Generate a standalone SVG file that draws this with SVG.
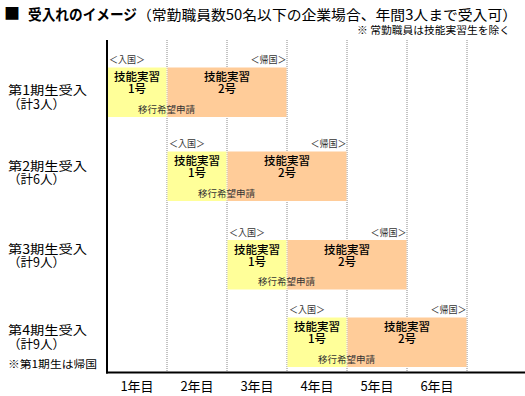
<svg xmlns="http://www.w3.org/2000/svg" width="525" height="396" viewBox="0 0 525 396">
<style>
text{font-family:"Noto Sans CJK JP","Noto Sans",sans-serif;fill:#000}
.ttl{font-size:15px;font-weight:bold}
.sub{font-size:14px}
.note{font-size:10px}
.lab{font-size:12.5px}
.yr{font-size:13px;text-anchor:middle}
.bx{font-size:11.5px;font-weight:500;text-anchor:middle}
.sm{font-size:9.5px;fill:#333}
.mv{font-size:9.5px;fill:#333}
.y{fill:#FFFF99}
.o{fill:#FFCC99}
.grid{stroke:#888;stroke-width:1;stroke-dasharray:1 1}
.axis{stroke:#000;stroke-width:2}
</style>
<g id="title">
<text x="4" y="19" style="font-size:16px;font-weight:bold">■</text>
<text class="ttl" x="28" y="20" textLength="109" lengthAdjust="spacingAndGlyphs">受入れのイメージ</text>
<text class="sub" x="137" y="20" textLength="380" lengthAdjust="spacingAndGlyphs">（常勤職員数50名以下の企業場合、年間3人まで受入可）</text>
<text class="note" x="357" y="34" textLength="153" lengthAdjust="spacingAndGlyphs">※ 常勤職員は技能実習生を除く</text>
</g>
<g id="grid">
<line class="grid" x1="167" y1="40" x2="167" y2="372"/>
<line class="grid" x1="227" y1="40" x2="227" y2="372"/>
<line class="grid" x1="287" y1="40" x2="287" y2="372"/>
<line class="grid" x1="347" y1="40" x2="347" y2="372"/>
<line class="grid" x1="407" y1="40" x2="407" y2="372"/>
<line class="grid" x1="467" y1="40" x2="467" y2="372"/>
</g>
<g id="row1">
<text class="lab" x="8" y="95" textLength="79" lengthAdjust="spacingAndGlyphs">第1期生受入</text>
<text class="lab" x="8" y="109" textLength="57" lengthAdjust="spacingAndGlyphs">（計3人）</text>
<rect class="y" x="108" y="67.5" width="58.5" height="49.5"/>
<rect class="o" x="167.5" y="67.5" width="119" height="49.5"/>
<text class="sm" x="109" y="63" textLength="36" lengthAdjust="spacingAndGlyphs">＜入国＞</text>
<text class="sm" x="286.5" y="63" text-anchor="end" textLength="36" lengthAdjust="spacingAndGlyphs">＜帰国＞</text>
<text class="bx" x="137" y="81">技能実習</text>
<text class="bx" x="137" y="93">1号</text>
<text class="bx" x="227" y="81">技能実習</text>
<text class="bx" x="227" y="93">2号</text>
<text class="mv" x="138" y="112.5" textLength="57" lengthAdjust="spacingAndGlyphs">移行希望申請</text>
</g>
<g id="row2">
<text class="lab" x="8" y="170.5" textLength="79" lengthAdjust="spacingAndGlyphs">第2期生受入</text>
<text class="lab" x="8" y="184" textLength="57" lengthAdjust="spacingAndGlyphs">（計6人）</text>
<rect class="y" x="167.5" y="151.5" width="59" height="49.5"/>
<rect class="o" x="227.5" y="151.5" width="119" height="49.5"/>
<text class="sm" x="169" y="147" textLength="36" lengthAdjust="spacingAndGlyphs">＜入国＞</text>
<text class="sm" x="346.5" y="147" text-anchor="end" textLength="36" lengthAdjust="spacingAndGlyphs">＜帰国＞</text>
<text class="bx" x="197" y="165">技能実習</text>
<text class="bx" x="197" y="177">1号</text>
<text class="bx" x="287" y="165">技能実習</text>
<text class="bx" x="287" y="177">2号</text>
<text class="mv" x="198" y="196.5" textLength="57" lengthAdjust="spacingAndGlyphs">移行希望申請</text>
</g>
<g id="row3">
<text class="lab" x="8" y="253.5" textLength="79" lengthAdjust="spacingAndGlyphs">第3期生受入</text>
<text class="lab" x="8" y="267" textLength="57" lengthAdjust="spacingAndGlyphs">（計9人）</text>
<rect class="y" x="227.5" y="240" width="59" height="49.5"/>
<rect class="o" x="287.5" y="240" width="119" height="49.5"/>
<text class="sm" x="229" y="235.5" textLength="36" lengthAdjust="spacingAndGlyphs">＜入国＞</text>
<text class="sm" x="406.5" y="235.5" text-anchor="end" textLength="36" lengthAdjust="spacingAndGlyphs">＜帰国＞</text>
<text class="bx" x="257" y="253.5">技能実習</text>
<text class="bx" x="257" y="265.5">1号</text>
<text class="bx" x="347" y="253.5">技能実習</text>
<text class="bx" x="347" y="265.5">2号</text>
<text class="mv" x="258" y="285" textLength="57" lengthAdjust="spacingAndGlyphs">移行希望申請</text>
</g>
<g id="row4">
<text class="lab" x="8" y="335" textLength="79" lengthAdjust="spacingAndGlyphs">第4期生受入</text>
<text class="lab" x="8" y="349" textLength="57" lengthAdjust="spacingAndGlyphs">（計9人）</text>
<text x="8" y="368" style="font-size:10.5px" textLength="89" lengthAdjust="spacingAndGlyphs">※第1期生は帰国</text>
<rect class="y" x="287.5" y="317.5" width="59" height="49.5"/>
<rect class="o" x="347.5" y="317.5" width="119" height="49.5"/>
<text class="sm" x="289" y="313" textLength="36" lengthAdjust="spacingAndGlyphs">＜入国＞</text>
<text class="sm" x="466.5" y="313" text-anchor="end" textLength="36" lengthAdjust="spacingAndGlyphs">＜帰国＞</text>
<text class="bx" x="317" y="331">技能実習</text>
<text class="bx" x="317" y="343">1号</text>
<text class="bx" x="407" y="331">技能実習</text>
<text class="bx" x="407" y="343">2号</text>
<text class="mv" x="318" y="362.5" textLength="57" lengthAdjust="spacingAndGlyphs">移行希望申請</text>
</g>
<g id="axes">
<line class="axis" x1="107" y1="40" x2="107" y2="373.5"/>
<line class="axis" x1="106" y1="372.5" x2="525" y2="372.5"/>
</g>
<g id="years">
<text class="yr" x="137" y="390.5">1年目</text>
<text class="yr" x="197" y="390.5">2年目</text>
<text class="yr" x="257" y="390.5">3年目</text>
<text class="yr" x="317" y="390.5">4年目</text>
<text class="yr" x="377" y="390.5">5年目</text>
<text class="yr" x="437" y="390.5">6年目</text>
</g>
</svg>
